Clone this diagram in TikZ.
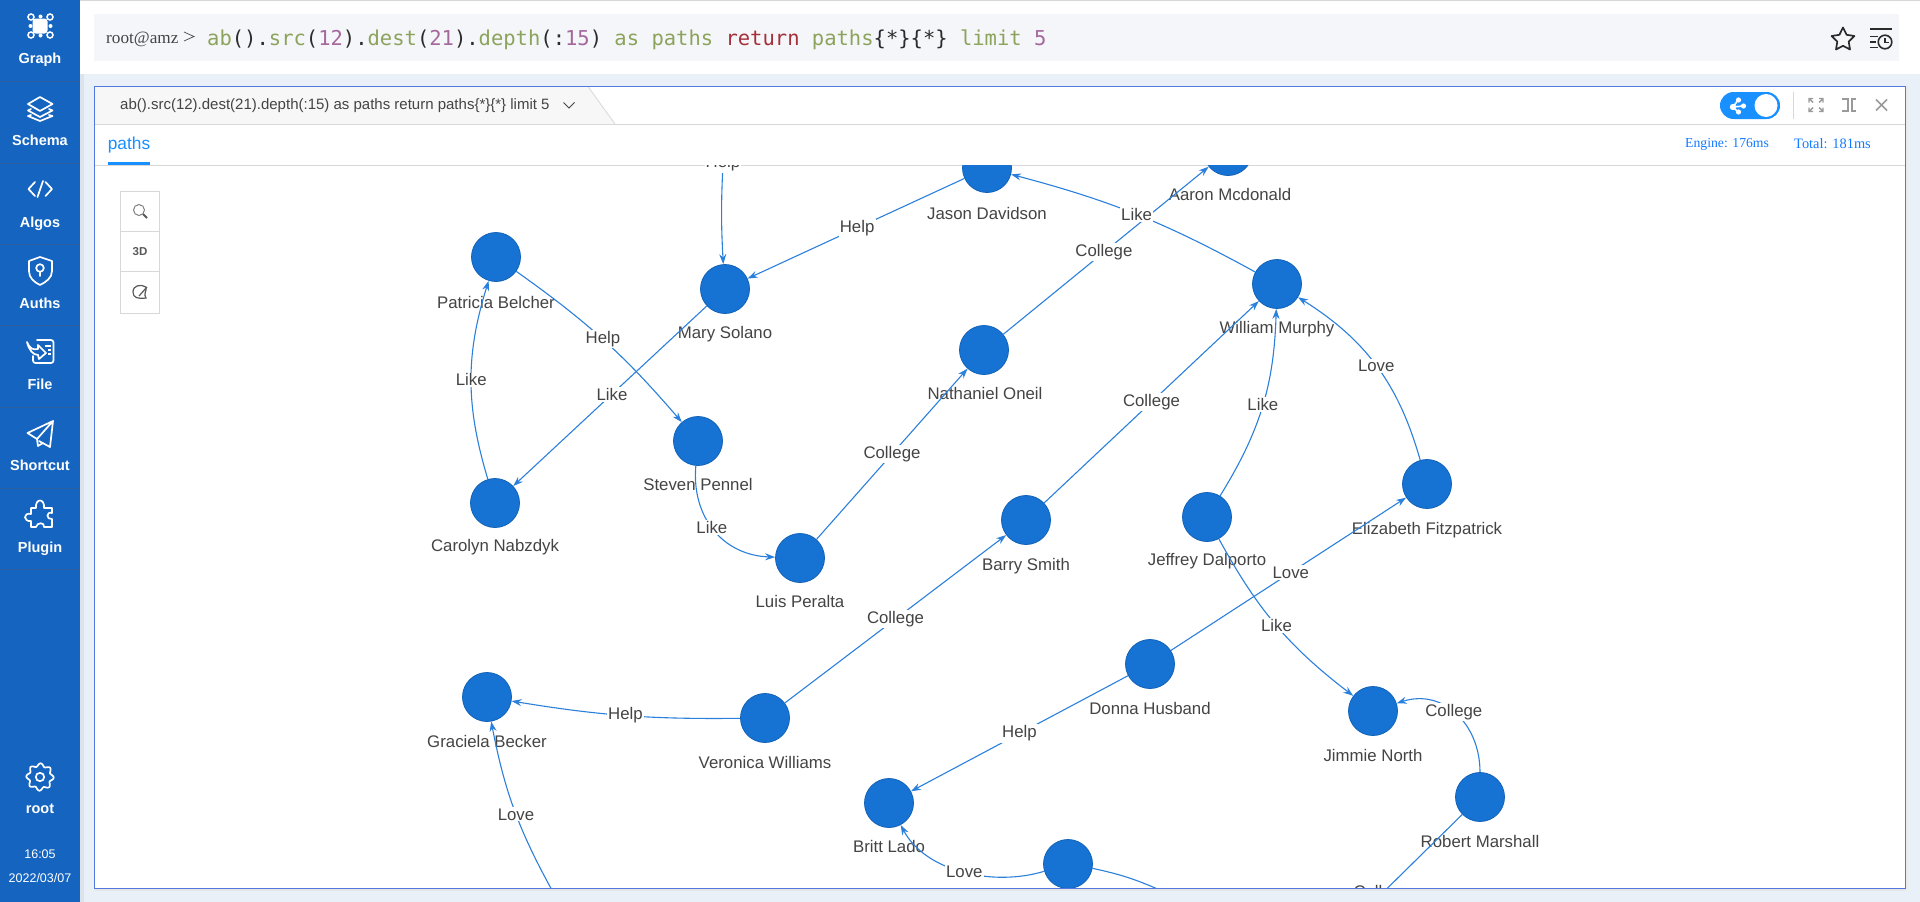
\documentclass[tikz,border=0pt]{standalone}
\usepackage{fontspec}
\setmainfont{Liberation Sans}
\setmonofont{DejaVu Sans Mono}
\newfontfamily\serifui{Liberation Serif}
\usetikzlibrary{arrows.meta,calc,shadows}
\definecolor{side}{HTML}{1565C0}
\definecolor{sidel}{HTML}{2A5E9E}
\definecolor{pagebg}{HTML}{E9F0F8}
\definecolor{qbox}{HTML}{F5F6FA}
\definecolor{frameb}{HTML}{5078E0}
\definecolor{edgec}{HTML}{2B80DC}
\definecolor{nodef}{HTML}{1773D3}
\definecolor{noded}{HTML}{1262B8}
\definecolor{txt}{HTML}{444444}
\definecolor{uiblue}{HTML}{1890FF}
\definecolor{qgreen}{HTML}{8CA35B}
\definecolor{qpurple}{HTML}{A4689C}
\definecolor{qred}{HTML}{A5303A}
\definecolor{qdark}{HTML}{2B2B2B}
\definecolor{greyl}{HTML}{D8D8D8}
\definecolor{greyi}{HTML}{9A9A9A}
\newcommand{\qg}[1]{\textcolor{qgreen}{#1}}
\newcommand{\qp}[1]{\textcolor{qpurple}{#1}}
\newcommand{\qr}[1]{\textcolor{qred}{#1}}
\newcommand{\qd}[1]{\textcolor{qdark}{#1}}
\tikzset{
  x=1pt,y=1pt,
  person/.style={circle,draw=noded,fill=nodef,line width=0.8pt,minimum size=49pt,inner sep=0pt},
  nm/.style={font=\fontsize{16.8}{19}\selectfont,text=txt,inner sep=0pt},
  edge/.style={draw=edgec,line width=1.1pt,-{Stealth[length=10pt,width=7pt]}},
  plain/.style={draw=edgec,line width=1.1pt},
  elabel/.style={font=\fontsize{16.8}{19}\selectfont,text=txt,fill=white,inner sep=1.2pt},
  sidelabel/.style={font=\bfseries\fontsize{14.5}{16}\selectfont,text=white,inner sep=0pt},
  sidetime/.style={font=\fontsize{12.5}{14}\selectfont,text=white,inner sep=0pt},
  sline/.style={draw=sidel,line width=0.8pt},
  ico/.style={draw=white,line width=1.7pt,line join=round,line cap=round},
  gico/.style={draw=greyi,line width=1.4pt},
  tool/.style={draw=greyl,line width=0.8pt,fill=white},
}
\newcommand{\person}[6]{\node[person] (#1) at (#2,-#3) {};\node[nm] (#1-t) at (#6,-#4) {#5};}
\begin{document}
\begin{tikzpicture}
\useasboundingbox (0,0) rectangle (1920,-902);
% page
\fill[pagebg] (0,0) rectangle (1920,-902);
\fill[white] (80,0) rectangle (1920,-74);
\fill[greyl] (80,0) rectangle (1920,-1);
\fill[qbox] (94,-14) rectangle (1899,-61);
\fill[side] (0,0) rectangle (80,-902);
\fill[black,opacity=.05] (80,-74) rectangle (84,-902);
% sidebar
\foreach \yy in {81,163,244,325,407,488,569}{\draw[sline] (0,-\yy) -- (80,-\yy);}
\node[sidelabel] (s1) at (40,-60) {Graph};
\node[sidelabel] (s2) at (40,-140) {Schema};
\node[sidelabel] (s3) at (40,-223.5) {Algos};
\node[sidelabel] (s4) at (40,-303) {Auths};
\node[sidelabel] (s5) at (40,-384) {File};
\node[sidelabel] (s6) at (40,-465) {Shortcut};
\node[sidelabel] (s7) at (40,-548.5) {Plugin};
\node[sidelabel] (s8) at (40,-809) {root};
\node[sidetime] (s9) at (40,-854) {16:05};
\node[sidetime] (s10) at (40,-878) {2022/03/07};
% graph icon
\fill[white,rounded corners=3pt] (32.5,-18.5) rectangle (47.5,-33.5);
\foreach \a/\b in {31/17,50/17,31/35,50/35}{\draw[white,line width=1.5pt] (\a,-\b) circle (3pt);}
\foreach \a/\b in {40.5/16.5,40.5/35.5,30.5/26,50.5/26}{\fill[white] (\a,-\b) circle (2pt);}
% schema icon
\draw[ico] (40,-97) -- (52.5,-104) -- (40,-111) -- (28,-104) -- cycle;
\draw[ico] (31,-109) -- (28,-110.5) -- (40,-117) -- (52.5,-110.5) -- (49,-109);
\draw[ico] (31,-115) -- (28,-116) -- (40,-121) -- (52.5,-116) -- (49,-115);
% algos icon
\draw[ico] (35,-182) -- (28.5,-189) -- (35,-196);
\draw[ico] (45.5,-182) -- (52,-189) -- (45.5,-196);
\draw[ico] (43,-181) -- (37.5,-197);
% auths icon
\draw[ico] (40,-257) -- (52,-261) -- (52,-271) .. controls (52,-278) and (46,-282) .. (40,-285) .. controls (34,-282) and (29,-278) .. (29,-271) -- (29,-261) -- cycle;
\draw[ico] (40,-268) circle (3.8pt);
\draw[ico] (40,-272) -- (40,-276);
% file icon
\draw[ico,rounded corners=2.5pt] (37,-340) -- (53.5,-340) -- (53.5,-363) -- (33,-363) -- (33,-356);
\draw[ico] (27,-342) .. controls (30,-349) and (33,-350) .. (38,-349) -- (38,-345) -- (46,-353) -- (39,-359) -- (38,-355) .. controls (33,-355) and (29,-350) .. (27,-342);
\draw[white,line width=1.2pt] (45,-346) -- (51,-346) (48,-350) -- (51,-350) (48,-354) -- (51,-354);
% shortcut icon
\draw[ico] (53,-421) -- (27.5,-433) -- (37,-439) -- (53,-421) -- (50,-447) -- (39,-441);
\draw[ico] (37,-439) -- (38,-446) -- (43,-443);
% plugin icon
\draw[ico] (33,-508) -- (36,-508) .. controls (35,-498) and (45,-498) .. (44,-508) -- (52,-508) -- (52,-513) .. controls (46,-511) and (46,-520) .. (52,-519) -- (52,-527) -- (44,-527) .. controls (45,-522) and (37,-522) .. (36,-527) -- (31,-527) -- (31,-521) .. controls (23,-522) and (23,-512) .. (31,-514) -- (31,-508) -- cycle;
% gear icon
\draw[ico,smooth,samples=120,domain=0:360] plot ({40+(12.2+1.5*cos(8*\x+22))*cos(\x)},{-777+(12.2+1.5*cos(8*\x+22))*sin(\x)});
\draw[ico] (40,-777) circle (4.2pt);
% query line
\node[anchor=base west,inner sep=0pt,font=\serifui\fontsize{17.2}{19}\selectfont,text=txt] (prompt) at (106,-43) {root@amz};
\draw[draw=txt,line width=0.7pt] (184,-32) -- (194,-36.5) -- (184,-41);
\node[anchor=base west,inner sep=0pt,font=\ttfamily\fontsize{20.5}{24}\selectfont] (query) at (207,-45)
 {\qg{ab}\qd{().}\qg{src}\qd{(}\qp{12}\qd{).}\qg{dest}\qd{(}\qp{21}\qd{).}\qg{depth}\qd{(:}\qp{15}\qd{)} \qg{as} \qg{paths} \qr{return} \qg{paths}\qd{\{*\}\{*\}} \qg{limit} \qp{5}};
% star + history
\draw[qdark,line width=1.7pt,line join=round] (1843,-27.5) -- (1846.6,-34.8) -- (1854.4,-36) -- (1848.7,-41.6) -- (1850,-49.5) -- (1843,-45.8) -- (1836,-49.5) -- (1837.3,-41.6) -- (1831.6,-36) -- (1839.4,-34.8) -- cycle;
\draw[qdark,line width=1.7pt] (1870,-29) -- (1892,-29) (1870,-36.5) -- (1878,-36.5) (1870,-42) -- (1876,-42) (1870,-47.5) -- (1878,-47.5);
\draw[qdark,line width=1.6pt] (1885,-42) circle (6.8pt);
\draw[qdark,line width=1.2pt] (1885,-38) -- (1885,-42.5) -- (1889,-42.5);
% result frame
\fill[black!10] (95,-888) rectangle (1905,-891);
\fill[black!8] (1905,-86) rectangle (1908,-891);
\fill[white] (94.5,-86) rectangle (1905,-888);
\fill[black!3] (94.5,-86.5) -- (588,-86.5) -- (615,-124) -- (94.5,-124) -- cycle;
\draw[greyl,line width=0.8pt] (588,-86.5) -- (615,-124);
\draw[greyl,line width=1pt] (94.5,-124.5) -- (1905,-124.5);
\draw[greyl,line width=1pt] (94.5,-165) -- (1905,-165);
\node[anchor=west,inner sep=0pt,font=\fontsize{15}{17}\selectfont,text=txt] (tabtxt) at (120,-105.5) {ab().src(12).dest(21).depth(:15) as paths return paths\{*\}\{*\} limit 5};
\draw[draw=txt,line width=1pt] (563.5,-102.5) -- (569,-108) -- (574.5,-102.5);
\node[inner sep=0pt,font=\fontsize{17.3}{20}\selectfont,text=uiblue] (pathstab) at (129,-145.5) {paths};
\fill[uiblue] (108,-162) rectangle (150,-165);
\node[anchor=west,inner sep=0pt,font=\serifui\fontsize{13.7}{16}\selectfont,text=uiblue!85!blue] (eng) at (1685,-144) {Engine: 176ms};
\node[anchor=west,inner sep=0pt,font=\serifui\fontsize{14.4}{16}\selectfont,text=uiblue!85!blue] (tot) at (1794,-144) {Total: 181ms};
% toggle and window icons
\fill[uiblue,rounded corners=13.5pt] (1720,-92) rectangle (1780,-119);
\fill[white] (1766,-105.5) circle (11.5pt);
\draw[white,line width=1.6pt] (1733,-107) -- (1738,-100) (1733,-107) -- (1743,-106) (1733,-107) -- (1738,-112);
\foreach \a/\b/\rr in {1733/107/3.2,1738.5/100/2.6,1743.5/106/2.6,1738.5/112/2.6}{\fill[white] (\a,-\b) circle (\rr pt);}
\draw[greyl,line width=1pt] (1793,-92) -- (1793,-119);
\draw[gico] (1809,-102.5) -- (1809,-98.5) -- (1813,-98.5) (1809,-98.5) -- (1813,-102.5)
 (1823,-102.5) -- (1823,-98.5) -- (1819,-98.5) (1823,-98.5) -- (1819,-102.5)
 (1809,-107.5) -- (1809,-111.5) -- (1813,-111.5) (1809,-111.5) -- (1813,-107.5)
 (1823,-107.5) -- (1823,-111.5) -- (1819,-111.5) (1823,-111.5) -- (1819,-107.5);
\draw[gico] (1842,-99) -- (1848,-99) -- (1848,-111) -- (1842,-111) (1856,-99) -- (1852,-99) -- (1852,-111) -- (1856,-111);
\draw[gico,line width=1.6pt] (1876,-99.5) -- (1887,-110.5) (1887,-99.5) -- (1876,-110.5);
% toolbox
\draw[tool] (120.5,-191.5) rectangle (159.5,-313.5);
\draw[greyl,line width=0.8pt] (120.5,-231.5) -- (159.5,-231.5) (120.5,-271.5) -- (159.5,-271.5);
\draw[draw=black!50,line width=1pt] (139,-210) circle (5.5pt);
\draw[draw=black!65,line width=1.8pt] (143,-214) -- (147,-218);
\node[inner sep=0pt,font=\bfseries\fontsize{11.5}{13}\selectfont,text=black!65] (td) at (140,-251.5) {3D};
\draw[draw=black!65,line width=1.2pt] (146,-287) .. controls (141,-284) and (133,-285) .. (133,-292) .. controls (133,-298) and (138,-299) .. (146,-298) .. controls (143,-294) and (147,-291) .. (146,-287);
\draw[draw=black!65,line width=1.2pt] (139,-296) -- (147,-287);
% graph
\begin{scope}
\clip (95,-165.6) rectangle (1904.5,-887.4);
\person{jason}{987}{168}{213.5}{Jason Davidson}{987}
\person{aaron}{1228}{151}{194}{Aaron Mcdonald}{1230}
\person{william}{1277}{284}{329}{William Murphy}{1277}
\person{patricia}{496}{257}{302}{Patricia Belcher}{496}
\person{mary}{725}{289}{334.5}{Mary Solano}{725}
\person{nathaniel}{984}{350}{393.5}{Nathaniel Oneil}{985}
\person{steven}{698}{441}{484.5}{Steven Pennel}{698}
\person{carolyn}{495}{503}{547.5}{Carolyn Nabzdyk}{495}
\person{elizabeth}{1427}{484}{530}{Elizabeth Fitzpatrick}{1427}
\person{barry}{1026}{520}{566}{Barry Smith}{1026}
\person{jeffrey}{1207}{517}{561}{Jeffrey Dalporto}{1207}
\person{luis}{800}{558}{601.5}{Luis Peralta}{800}
\person{donna}{1150}{664}{708}{Donna Husband}{1150}
\person{graciela}{487}{697}{741}{Graciela Becker}{487}
\person{veronica}{765}{718}{762}{Veronica Williams}{765}
\person{jimmie}{1373}{711}{755}{Jimmie North}{1373}
\person{robert}{1480}{797}{841}{Robert Marshall}{1480}
\person{britt}{889}{803}{846}{Britt Lado}{889}
\node[person] (bottom) at (1068,-864) {};
\coordinate (ftop) at (723,-163.6);
\coordinate (fgrac) at (553,-892);
\coordinate (fbot) at (1162,-891);
\coordinate (frob) at (1382,-893.5);
\draw[edge] (ftop) to[bend right=3] node[pos=0,elabel] (l1) {Help} (mary);
\draw[edge] (jason) -- node[elabel,pos=.495] (l2) {Help} (mary);
\draw[edge] (patricia) to[bend left=7] node[elabel,pos=.49] (l3) {Help} (steven);
\draw[edge] (carolyn) to[bend left=17] node[elabel] (l4) {Like} (patricia);
\draw[edge] (mary) -- node[elabel,pos=.49] (l5) {Like} (carolyn);
\draw[edge] (steven) to[out=-95,in=178,looseness=1.1] node[elabel,pos=.47] (l6) {Like} (luis);
\draw[edge] (luis) -- node[elabel,pos=.5] (l7) {College} (nathaniel);
\draw[edge] (nathaniel) -- node[elabel,pos=.49] (l8) {College} (aaron);
\draw[edge] (william) to[bend right=7] node[elabel,pos=.5] (l9) {Like} (jason);
\draw[edge] (barry) -- node[elabel,pos=.5] (l10) {College} (william);
\draw[edge] (jeffrey) to[bend right=15] node[elabel,pos=.51] (l11) {Like} (william);
\draw[edge] (elizabeth) to[bend right=21] node[elabel,pos=.5] (l12) {Love} (william);
\draw[edge] (veronica) -- node[elabel,pos=.5] (l13) {College} (barry);
\draw[edge] (veronica) to[bend left=5] node[elabel,pos=.5] (l14) {Help} (graciela);
\draw[edge] (donna) -- node[elabel,pos=.51] (l15) {Love} (elizabeth);
\draw[edge] (donna) -- node[elabel,pos=.5] (l16) {Help} (britt);
\draw[edge] (jeffrey) to[bend right=12] node[elabel,pos=.5] (l17) {Like} (jimmie);
\draw[edge] (robert) to[out=90,in=18,looseness=1.15] node[elabel,pos=.52] (l18) {College} (jimmie);
\draw[edge] (bottom) to[out=197,in=-62,looseness=.9] node[elabel,pos=.49] (l19) {Love} (britt);
\draw[plain] (bottom) to[bend left=6] (fbot);
\draw[edge] (fgrac) to[bend left=9] node[elabel,pos=.47] (l20) {Love} (graciela);
\draw[plain] (robert) -- node[elabel,fill=none,pos=1] (l21) {College} (frob);
\end{scope}
\draw[frameb,line width=1pt] (94.5,-86) rectangle (1905,-888);
\end{tikzpicture}
\end{document}
